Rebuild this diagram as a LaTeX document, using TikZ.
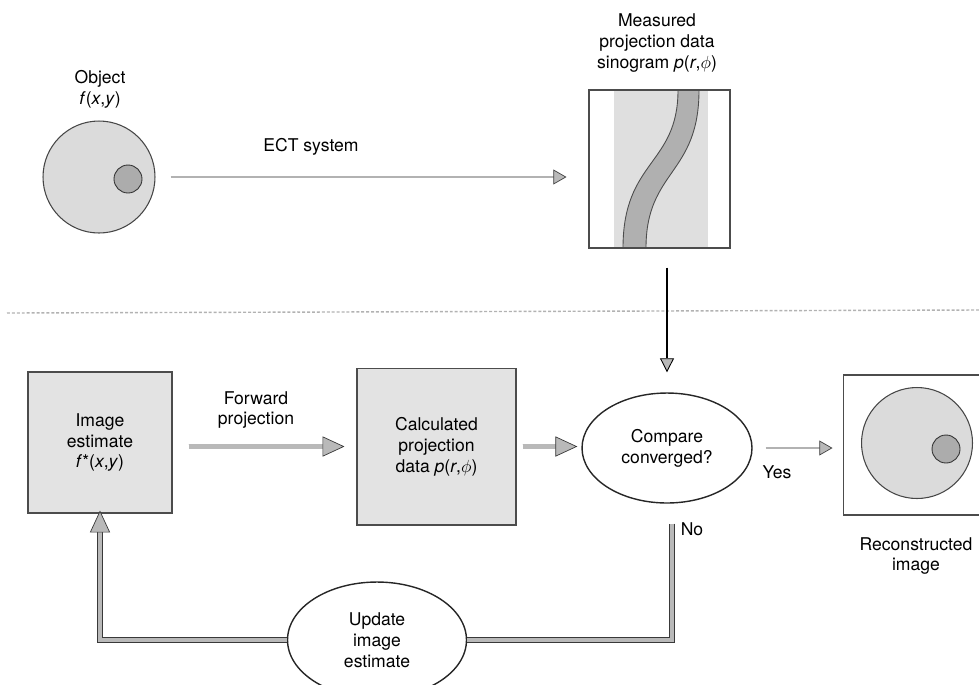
\documentclass[tikz,border=0pt]{standalone}
\usepackage{fontspec}
\setmainfont{TeX Gyre Heros}
\usetikzlibrary{positioning, arrows.meta, shapes.geometric, calc}

\begin{document}
\begin{tikzpicture}[x=0.02cm, y=-0.02cm,
  every node/.style={font=\fontsize{10}{11.9}\selectfont, align=center},
  graybox/.style={draw=gray!60!black, fill=gray!22, line width=0.6pt, inner sep=0pt},
  oval/.style={ellipse, draw=black!85, fill=white, line width=0.8pt, inner sep=0pt},
  disc/.style={circle, draw=gray!55!black, fill=gray!28, line width=0.6pt, inner sep=0pt, minimum size=#1},
  spot/.style={circle, draw=gray!40!black, fill=gray!65, line width=0.5pt, inner sep=0pt, minimum size=0.56cm},
  fatline/.style={draw=gray!45!black, line width=0.4pt, double=gray!55, double distance=2.4pt},
  fat/.style={fatline, -{Triangle[length=12.5pt, width=11.5pt, fill=gray!55, color=gray!45!black, line width=0.4pt]}},
  slim/.style={draw=gray!60, line width=1.2pt, -{Triangle[length=7.5pt, width=8.5pt, fill=gray!55, color=gray!50!black, line width=0.4pt]}},
  blackarrow/.style={draw=black, line width=1pt, -{Triangle[length=8pt, width=8pt, fill=gray!55, color=black, line width=0.5pt]}}]
\clip (0,0) rectangle (979,684);

% top half: acquisition
\node[disc=2.24cm] (obj) at (99,177) {};
\node[spot] (objspot) at (128,179) {};
\node (objlbl) at (100,89) {Object\\\textit{f}(\textit{x},\textit{y})};

\fill[gray!25] (614,90) rectangle (708,248);
\fill[gray!62, draw=black!70, line width=0.5pt] (678,90) .. controls (678,165) and (623,160) .. (623,248)
  -- (646,248) .. controls (646,170) and (699,175) .. (699,90) -- cycle;
\node[draw=gray!60!black, line width=0.6pt, minimum width=2.82cm, minimum height=3.16cm, inner sep=0pt] (sino) at (659.5,169) {};
\node (sinolbl) at (657,43) {Measured\\projection data\\sinogram \textit{p}(\textit{r},$\phi$)};

\draw[slim, shorten <=0.3cm, shorten >=0.44cm] (obj.east) -- (obj.east -| sino.west);
\node (ectlbl) at (311,147) {ECT system};

\draw[gray!60, line width=0.8pt, dash pattern=on 1.7pt off 1.1pt] (7,313) -- (979,310);

% bottom half: iterative loop
\node[graybox, minimum width=2.88cm, minimum height=2.82cm] (est) at (100,442.5) {Image\\estimate\\\textit{f}*(\textit{x},\textit{y})};
\node[graybox, minimum width=3.18cm, minimum height=3.14cm] (calc) at (436.5,446.5) {Calculated\\projection\\data \textit{p}(\textit{r},$\phi$)};
\node[oval, minimum width=3.4cm, minimum height=2.2cm] (comp) at (667,448) {Compare\\converged?};
\node[draw=gray!60!black, fill=white, line width=0.6pt, minimum width=3.04cm, minimum height=2.8cm, inner sep=0pt] (recon) at (919,445) {};
\node[disc=2.22cm] (reconimg) at (917,443) {};
\node[spot] (reconspot) at (946,449) {};
\node (reconlbl) at (916,556) {Reconstructed\\image};
\node[oval, minimum width=3.58cm, minimum height=2.32cm] (upd) at (377,640) {Update\\image\\estimate};

\draw[blackarrow, shorten <=0.38cm, shorten >=0.4cm] (sino.south -| comp.north) -- (comp.north);
\draw[fat, shorten <=0.32cm, shorten >=0.24cm] (calc.west -| est.east) -- (calc.west);
\node (fwdlbl) at (256,410) {Forward\\projection};
\draw[fat, shorten <=0.12cm, shorten >=0.08cm] (calc.east) -- (calc.east -| comp.west);
\draw[slim, shorten <=0.26cm, shorten >=0.2cm] (comp.east) -- (comp.east -| recon.west);
\node (yeslbl) at (777,472) {Yes};
\draw[fatline] ([shift={(0.1cm,-0.4cm)}]comp.south) |- (upd.east);
\node (nolbl) at (692,529) {No};
\draw[fat, shorten >=-0.06cm] (upd.west) -| (est.south);
\end{tikzpicture}
\end{document}
